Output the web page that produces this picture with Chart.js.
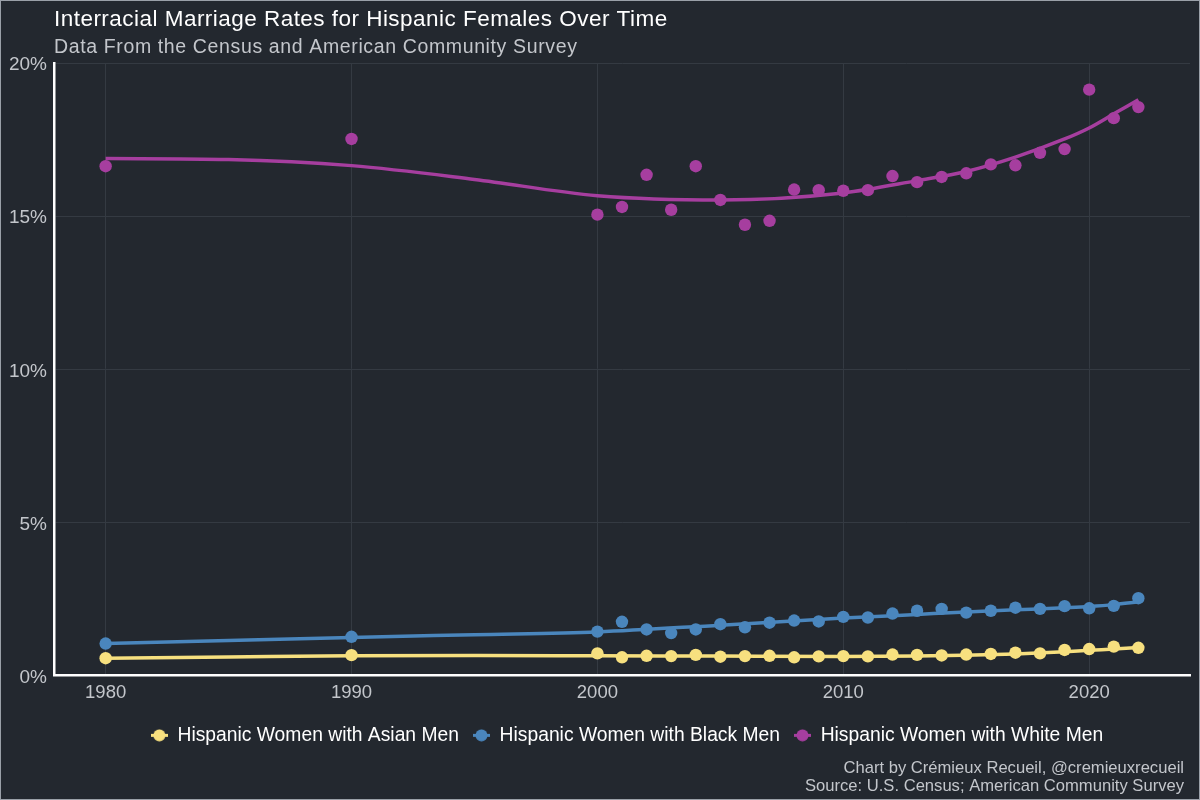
<!DOCTYPE html>
<html>
<head>
<meta charset="utf-8">
<script src="https://cdn.jsdelivr.net/npm/chart.js@4.4.1/dist/chart.umd.min.js"></script>
<style>
  html, body { margin: 0; padding: 0; background: #23282f; }
  #wrap { width: 1200px; height: 800px; position: relative; box-sizing: border-box; border: 1px solid #9aa0a8; }
  canvas { display: block; }
</style>
</head>
<body>
<div id="wrap"><canvas id="c" width="1198" height="798"></canvas></div>
<script>
// ---------- data (percent) ----------
const years = [1980, 1990, 2000, 2001, 2002, 2003, 2004, 2005, 2006, 2007, 2008, 2009, 2010,
               2011, 2012, 2013, 2014, 2015, 2016, 2017, 2018, 2019, 2020, 2021, 2022];
const asianMen = [0.57, 0.67, 0.73, 0.60, 0.65, 0.64, 0.68, 0.62, 0.64, 0.65, 0.60, 0.63, 0.64,
                  0.63, 0.69, 0.68, 0.66, 0.69, 0.71, 0.75, 0.73, 0.84, 0.87, 0.95, 0.91];
const blackMen = [1.05, 1.27, 1.44, 1.76, 1.51, 1.39, 1.51, 1.68, 1.58, 1.73, 1.80, 1.77, 1.92,
                  1.90, 2.03, 2.12, 2.18, 2.06, 2.12, 2.22, 2.18, 2.27, 2.20, 2.28, 2.53];
const whiteMen = [16.63, 17.52, 15.05, 15.30, 16.35, 15.21, 16.63, 15.53, 14.72, 14.85, 15.87, 15.85, 15.83,
                  15.85, 16.31, 16.11, 16.28, 16.40, 16.69, 16.66, 17.07, 17.19, 19.13, 18.20, 18.56];

// smoothed trend lines
const fitYears = [1980, 1985, 1990, 1995, 2000, 2005, 2010, 2013, 2015, 2017, 2019, 2020, 2021, 2022];
const asianFit = [0.57, 0.61, 0.65, 0.66, 0.65, 0.64, 0.63, 0.64, 0.67, 0.71, 0.78, 0.83, 0.87, 0.92];
const blackFit = [1.05, 1.15, 1.25, 1.34, 1.43, 1.65, 1.88, 2.00, 2.08, 2.15, 2.22, 2.26, 2.32, 2.41];
const whiteFit = [16.88, 16.85, 16.65, 16.20, 15.67, 15.53, 15.76, 16.16, 16.46, 16.93, 17.52, 17.88, 18.34, 18.80];

const xTicks = [1980, 1990, 2000, 2010, 2020];
const yTicks = [0, 5, 10, 15, 20];
const seriesNames = ['Hispanic Women with Asian Men', 'Hispanic Women with Black Men', 'Hispanic Women with White Men'];
const colors = ['#f7e07f', '#4a86bd', '#a63e9f'];

const titleText = 'Interracial Marriage Rates for Hispanic Females Over Time';
const subtitleText = 'Data From the Census and American Community Survey';
const captionLines = ['Chart by Crémieux Recueil, @cremieuxrecueil', 'Source: U.S. Census; American Community Survey'];

const FONT = '"Liberation Sans", Arial, Helvetica, sans-serif';

function toXY(xs, ys) { return xs.map((x, i) => ({ x: x, y: ys[i] })); }

function legendIcon(color) {
  const cv = document.createElement('canvas');
  cv.width = 17; cv.height = 13;
  const g = cv.getContext('2d');
  g.strokeStyle = color; g.lineWidth = 3;
  g.beginPath(); g.moveTo(0, 6.5); g.lineTo(17, 6.5); g.stroke();
  g.fillStyle = color;
  g.beginPath(); g.arc(8.5, 6.5, 6, 0, Math.PI * 2); g.fill();
  return cv;
}
const icons = colors.map(legendIcon);

const pointSets = [asianMen, blackMen, whiteMen];
const fitSets = [asianFit, blackFit, whiteFit];

const datasets = [];
fitSets.forEach((f, i) => {
  datasets.push({
    type: 'line', label: seriesNames[i] + ' trend', data: toXY(fitYears, f),
    borderColor: colors[i], borderWidth: 3.5, pointRadius: 0, pointHoverRadius: 0,
    cubicInterpolationMode: 'monotone', fill: false, order: 2
  });
});
pointSets.forEach((p, i) => {
  datasets.push({
    type: 'scatter', label: seriesNames[i], data: toXY(years, p),
    backgroundColor: colors[i], borderColor: colors[i], pointRadius: 6.2, borderWidth: 0,
    pointStyle: 'circle', order: 1
  });
});

const annotPlugin = {
  id: 'texts',
  beforeDraw(chart) {
    const ctx = chart.ctx;
    ctx.save();
    ctx.fillStyle = '#23282f';
    ctx.fillRect(0, 0, chart.width, chart.height);
    ctx.restore();
  },
  afterLayout(chart) {
    // centre the legend on the plotting panel
    const lg = chart.legend;
    if (lg) {
      const panelCentre = (chart.chartArea.left + chart.chartArea.right) / 2;
      const cur = (lg.left + lg.right) / 2;
      const d = panelCentre - cur + 5;
      lg.left += d; lg.right += d;
    }
  },
  afterDraw(chart) {
    const ctx = chart.ctx;
    const left = chart.chartArea.left;
    ctx.save();
    ctx.textBaseline = 'alphabetic';
    ctx.textAlign = 'left';
    ctx.fillStyle = '#ffffff';
    ctx.font = '22.5px ' + FONT;
    ctx.letterSpacing = '0.47px';
    ctx.fillText(titleText, left, 24.5);
    ctx.fillStyle = '#c3c6cb';
    ctx.font = '19.5px ' + FONT;
    ctx.letterSpacing = '0.63px';
    ctx.fillText(subtitleText, left, 51.5);
    ctx.letterSpacing = '0px';
    ctx.textAlign = 'right';
    ctx.fillStyle = '#c3c6cb';
    ctx.font = '16.6px ' + FONT;
    ctx.fillText(captionLines[0], chart.width - 15, 771.5);
    ctx.fillText(captionLines[1], chart.width - 15, 789.5);
    ctx.restore();
  }
};

new Chart(document.getElementById('c'), {
  data: { datasets: datasets },
  options: {
    responsive: false,
    animation: false,
    layout: { padding: { left: 0, right: 9, top: 62, bottom: 44 } },
    scales: {
      x: {
        type: 'linear', min: 1977.9, max: 2024.1,
        afterBuildTicks: s => { s.ticks = xTicks.map(v => ({ value: v })); },
        afterFit: s => { s.height = 36; },
        grid: { color: '#343a42', lineWidth: 1, drawTicks: false },
        border: { display: true, color: '#ffffff', width: 2.5 },
        ticks: { color: '#c3c6cb', font: { size: 18.5, family: FONT }, padding: 6, callback: v => String(v) }
      },
      y: {
        type: 'linear', min: 0, max: 20,
        afterBuildTicks: s => { s.ticks = yTicks.map(v => ({ value: v })); },
        afterFit: s => { s.width = 53; },
        grid: { color: '#343a42', lineWidth: 1, drawTicks: false },
        border: { display: true, color: '#ffffff', width: 2.5 },
        ticks: { color: '#c3c6cb', font: { size: 19, family: FONT }, padding: 7, labelOffset: 2, callback: v => v + '%' }
      }
    },
    plugins: {
      title: { display: false },
      tooltip: { enabled: false },
      legend: {
        display: true, position: 'bottom',
        labels: {
          usePointStyle: true, pointStyleWidth: 17, boxHeight: 14, padding: 14,
          color: '#ffffff', font: { size: 19.3, family: FONT },
          generateLabels: chart => seriesNames.map((n, i) => ({
            text: n, fillStyle: colors[i], strokeStyle: colors[i], lineWidth: 0,
            pointStyle: icons[i], datasetIndex: i + 3, fontColor: '#ffffff', hidden: false
          }))
        }
      }
    }
  },
  plugins: [annotPlugin]
});
</script>
</body>
</html>
